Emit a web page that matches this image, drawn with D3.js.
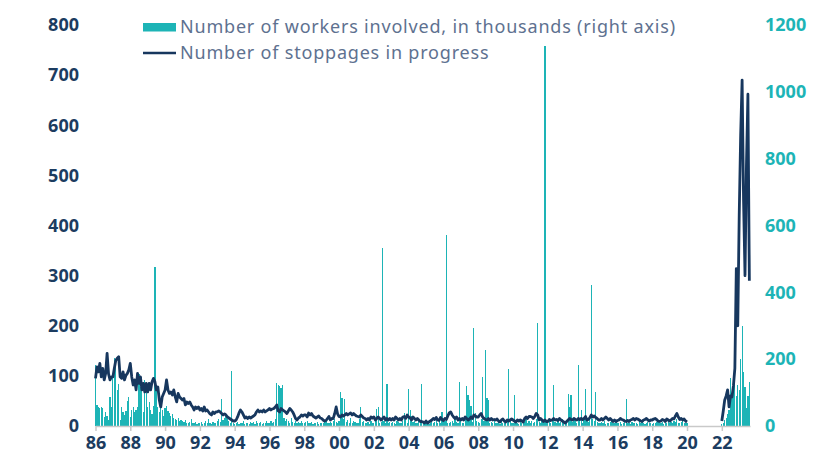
<!DOCTYPE html>
<html>
<head>
<meta charset="utf-8">
<script src="https://cdn.jsdelivr.net/npm/d3@7/dist/d3.min.js"></script>
<style>
  body { margin: 0; background: #fff; }
  svg text { font-family: "Noto Sans", sans-serif; }
</style>
</head>
<body>
<div id="chart"></div>
<script>
// monthly series, Jan 1986 .. Aug 2023 (null = no data, 2020-2021)
var startYear = 1986;

var stoppages = [
  95, 118, 108, 125, 98, 115, 92, 105, 145, 104, 92, 98,      // 1986
  98, 115, 131, 135, 138, 98, 95, 108, 92, 101, 105, 112,     // 1987
  125, 98, 82, 92, 72, 105, 85, 98, 72, 85, 68, 85,           // 1988
  68, 85, 72, 88, 95, 88, 72, 78, 52, 38, 58, 65,             // 1989
  72, 92, 72, 65, 68, 62, 72, 58, 48, 65, 58, 55,             // 1990
  52, 55, 42, 48, 45, 48, 42, 38, 32, 38, 35, 38,             // 1991
  32, 35, 30, 38, 30, 32, 28, 24, 22, 28, 25, 28,             // 1992
  28, 30, 28, 25, 22, 24, 22, 18, 16, 14, 12, 10,             // 1993
  10, 12, 18, 26, 32, 28, 22, 16, 18, 15, 18, 16,             // 1994
  18, 20, 22, 28, 32, 28, 30, 28, 32, 28, 30, 32,             // 1995
  35, 32, 34, 35, 38, 42, 30, 28, 35, 32, 30, 28,             // 1996
  25, 30, 35, 32, 28, 22, 15, 12, 16, 18, 22, 20,             // 1997
  22, 22, 18, 26, 22, 25, 20, 18, 16, 18, 20, 16,             // 1998
  15, 12, 10, 11, 15, 19, 12, 15, 15, 25, 38, 24,             // 1999
  19, 18, 22, 20, 22, 25, 22, 24, 26, 22, 25, 22,             // 2000
  20, 19, 18, 22, 19, 16, 15, 12, 15, 12, 18, 16,             // 2001
  18, 12, 15, 18, 15, 12, 15, 18, 12, 15, 12, 15,             // 2002
  12, 15, 12, 18, 15, 12, 15, 12, 18, 19, 15, 22,             // 2003
  18, 16, 12, 18, 15, 12, 15, 12, 9, 9, 8, 6,                 // 2004
  10, 6, 8, 10, 12, 15, 13, 17, 12, 11, 17, 13,               // 2005
  11, 15, 13, 20, 26, 28, 22, 18, 15, 18, 12, 15,             // 2006
  12, 15, 12, 18, 15, 12, 14, 18, 15, 22, 20, 18,             // 2007
  18, 22, 25, 18, 15, 13, 12, 15, 12, 15, 12, 13,             // 2008
  12, 14, 10, 8, 12, 14, 10, 8, 12, 10, 12, 14,               // 2009
  12, 10, 8, 12, 10, 12, 10, 8, 15, 18, 15, 19,               // 2010
  19, 18, 15, 19, 25, 22, 12, 15, 12, 9, 12, 9,               // 2011
  9, 13, 11, 12, 15, 12, 13, 11, 15, 12, 10, 8,               // 2012
  6, 9, 12, 15, 13, 12, 15, 13, 12, 15, 13, 15,               // 2013
  13, 15, 19, 12, 13, 17, 22, 18, 20, 17, 15, 12,             // 2014
  12, 15, 12, 15, 18, 15, 12, 15, 12, 9, 12, 9,               // 2015
  11, 12, 15, 13, 12, 10, 9, 11, 9, 12, 13, 15,               // 2016
  12, 15, 14, 12, 10, 9, 12, 13, 15, 12, 10, 12,              // 2017
  12, 14, 15, 13, 10, 9, 10, 13, 12, 9, 14, 12,               // 2018
  10, 12, 15, 14, 20, 25, 18, 13, 15, 12, 14, 10,             // 2019
  8, null, null, null, null, null, null, null, null, null, null, null,        // 2020
  null, null, null, null, null, null, null, null, null, null, null, null,     // 2021
  10, 30, 52, 60, 72, 38, 60, 58, 80, 115, 314, 200,          // 2022
  420, 580, 690, 450, 300, 520, 662, 290                      // 2023
];

var workers = [
  182, 62, 58, 55, 58, 53, 27, 41, 30, 18, 87, 58,            // 1986
  157, 203, 190, 107, 127, 18, 58, 41, 33, 45, 75, 87,        // 1987
  27, 47, 58, 41, 47, 58, 157, 117, 147, 41, 137, 127,        // 1988
  58, 72, 47, 35, 60, 475, 107, 58, 41, 78, 47, 30,           // 1989
  55, 60, 45, 40, 30, 35, 25, 20, 18, 25, 15, 18,             // 1990
  15, 12, 18, 10, 8, 12, 22, 10, 8, 12, 6, 8,                 // 1991
  8, 12, 6, 10, 15, 8, 20, 10, 5, 12, 8, 10,                  // 1992
  15, 20, 12, 80, 18, 25, 30, 20, 15, 10, 164, 8,             // 1993
  5, 8, 12, 6, 10, 8, 15, 5, 8, 10, 6, 12,                    // 1994
  8, 12, 6, 15, 10, 8, 12, 5, 10, 8, 15, 10,                  // 1995
  10, 15, 8, 12, 20, 128, 122, 120, 115, 122, 25, 15,         // 1996
  20, 15, 10, 25, 12, 8, 15, 10, 12, 8, 15, 10,               // 1997
  8, 12, 15, 10, 8, 12, 5, 10, 8, 12, 6, 10,                  // 1998
  10, 8, 12, 15, 8, 10, 12, 8, 15, 20, 12, 10,                // 1999
  15, 102, 84, 20, 80, 12, 18, 10, 25, 8, 15, 12,             // 2000
  10, 8, 20, 58, 12, 15, 8, 10, 12, 6, 15, 8,                 // 2001
  10, 20, 52, 58, 10, 12, 534, 15, 8, 127, 10, 12,            // 2002
  8, 12, 10, 6, 15, 12, 8, 10, 15, 40, 18, 10,                // 2003
  112, 48, 30, 12, 15, 8, 10, 20, 12, 127, 10, 8,             // 2004
  8, 12, 6, 10, 15, 8, 12, 20, 10, 15, 8, 43,                 // 2005
  12, 15, 573, 10, 8, 12, 15, 10, 20, 12, 8, 132,             // 2006
  15, 10, 8, 20, 119, 93, 78, 60, 12, 292, 39, 15,            // 2007
  12, 8, 20, 147, 15, 227, 83, 78, 10, 12, 8, 15,             // 2008
  10, 8, 12, 6, 15, 10, 8, 12, 20, 172, 15, 10,               // 2009
  8, 93, 12, 10, 6, 15, 8, 10, 12, 20, 8, 15,                 // 2010
  10, 15, 8, 12, 20, 307, 12, 8, 15, 10, 1137, 12,            // 2011
  8, 15, 10, 20, 122, 12, 8, 15, 10, 12, 20, 8,               // 2012
  10, 15, 95, 58, 93, 12, 20, 15, 10, 182, 25, 48,            // 2013
  10, 20, 112, 15, 12, 30, 421, 20, 15, 102, 12, 10,          // 2014
  8, 12, 10, 15, 6, 10, 8, 12, 15, 10, 8, 12,                 // 2015
  10, 8, 12, 6, 10, 15, 80, 8, 10, 6, 12, 8,                  // 2016
  8, 10, 6, 12, 8, 15, 10, 6, 8, 12, 10, 8,                   // 2017
  6, 10, 8, 12, 15, 8, 10, 12, 6, 8, 10, 15,                  // 2018
  8, 12, 10, 15, 12, 20, 10, 8, 12, 15, 10, 8,                // 2019
  10, null, null, null, null, null, null, null, null, null, null, null,       // 2020
  null, null, null, null, null, null, null, null, null, null, null, null,     // 2021
  5, 10, 18, 24, 35, 48, 143, 100, 147, 167, 90, 122,         // 2022
  107, 200, 298, 162, 117, 54, 90, 132                        // 2023
];

var xTickYears = [1986, 1988, 1990, 1992, 1994, 1996, 1998, 2000, 2002, 2004,
                  2006, 2008, 2010, 2012, 2014, 2016, 2018, 2020, 2022];
var xTickLabels = ["86", "88", "90", "92", "94", "96", "98", "00", "02", "04",
                   "06", "08", "10", "12", "14", "16", "18", "20", "22"];
var leftTicks = [0, 100, 200, 300, 400, 500, 600, 700, 800];
var rightTicks = [0, 200, 400, 600, 800, 1000, 1200];
var legendLabels = ["Number of workers involved, in thousands (right axis)",
                    "Number of stoppages in progress"];

var teal = "#1db4b6",
    navy = "#17375e",
    labelNavy = "#1c3c60",
    legendGrey = "#5e7190",
    axisGrey = "#c9c9c9";

var width = 815, height = 455;

var svg = d3.select("#chart")
  .append("svg")
  .attr("width", width)
  .attr("height", height);

var xPositionScale = d3.scaleLinear().domain([1986, 2023.62]).range([95.5, 750]);
var yLeftScale = d3.scaleLinear().domain([0, 800]).range([426, 25]);
var yRightScale = d3.scaleLinear().domain([0, 1200]).range([426, 25]);

var datapoints = stoppages.map(function(v, i) {
  return {
    date: startYear + i / 12,
    stoppages: v,
    workers: workers[i]
  };
});

// bars: workers involved (right axis)
svg.append("g")
  .attr("shape-rendering", "crispEdges")
  .selectAll("rect")
  .data(datapoints.filter(function(d) { return d.workers != null; }))
  .enter().append("rect")
  .attr("x", function(d) { return xPositionScale(d.date) - 0.6; })
  .attr("width", 1.2)
  .attr("y", function(d) { return yRightScale(d.workers); })
  .attr("height", function(d) { return yRightScale(0) - yRightScale(d.workers); })
  .attr("fill", teal);

// x axis
var xAxis = d3.axisBottom(xPositionScale)
  .tickValues(xTickYears)
  .tickFormat(function(d, i) { return xTickLabels[i]; })
  .tickSizeInner(5)
  .tickSizeOuter(0);

var xg = svg.append("g")
  .attr("class", "axis x-axis")
  .attr("transform", "translate(0,426)")
  .call(xAxis);
xg.select(".domain").attr("stroke", axisGrey).attr("stroke-width", 1.5);
xg.selectAll(".tick line").attr("stroke", axisGrey).attr("stroke-width", 1.5);
xg.selectAll("text")
  .attr("y", 23)
  .attr("dy", null)
  .attr("fill", labelNavy)
  .style("font-size", "18px")
  .style("font-weight", "700");

// line: stoppages (left axis)
var line = d3.line()
  .defined(function(d) { return d.stoppages != null; })
  .x(function(d) { return xPositionScale(d.date); })
  .y(function(d) { return yLeftScale(d.stoppages); });

svg.append("path")
  .datum(datapoints)
  .attr("d", line)
  .attr("fill", "none")
  .attr("stroke", navy)
  .attr("stroke-width", 2.8)
  .attr("stroke-linejoin", "round");

// left axis
var yAxisLeft = d3.axisLeft(yLeftScale).tickValues(leftTicks).tickSize(0).tickPadding(0);
var yl = svg.append("g")
  .attr("class", "axis y-axis")
  .attr("transform", "translate(79,0)")
  .call(yAxisLeft);
yl.select(".domain").remove();
yl.selectAll("text")
  .attr("fill", labelNavy)
  .style("font-size", "18px")
  .style("font-weight", "700");

// right axis
var yAxisRight = d3.axisRight(yRightScale)
  .tickValues(rightTicks)
  .tickFormat(d3.format("d"))
  .tickSize(0)
  .tickPadding(0);
var yr = svg.append("g")
  .attr("class", "axis y-axis-right")
  .attr("transform", "translate(765,0)")
  .call(yAxisRight);
yr.select(".domain").remove();
yr.selectAll("text")
  .attr("fill", teal)
  .style("font-size", "18px")
  .style("font-weight", "700");

// legend
var legend = svg.append("g").attr("class", "legend");
legend.append("rect")
  .attr("x", 143).attr("y", 23)
  .attr("width", 33).attr("height", 8.5)
  .attr("fill", teal);
legend.append("line")
  .attr("x1", 143).attr("x2", 176)
  .attr("y1", 53).attr("y2", 53)
  .attr("stroke", navy)
  .attr("stroke-width", 2.4);
legend.selectAll("text")
  .data(legendLabels)
  .enter().append("text")
  .attr("x", 180)
  .attr("y", function(d, i) { return 32.5 + i * 26; })
  .attr("fill", legendGrey)
  .style("font-size", "18px")
  .style("letter-spacing", "0.8px")
  .text(function(d) { return d; });
</script>
</body>
</html>
